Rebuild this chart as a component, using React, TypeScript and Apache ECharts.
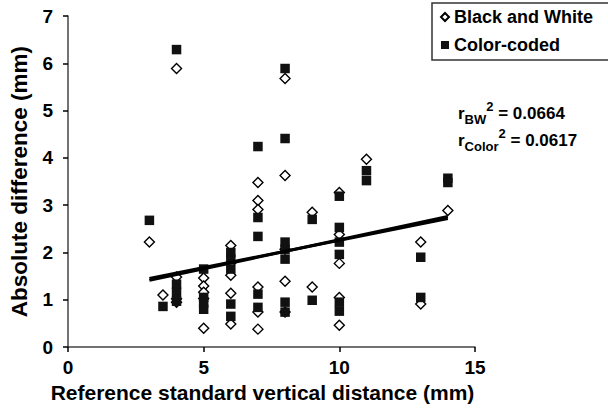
import React, { useEffect, useRef } from "react";
import * as echarts from "echarts";

// Black and White (diamonds): reference distance (mm) and absolute difference (mm)
const bwDistance = [3, 3.5, 4, 4, 4, 4, 5, 5, 5, 5, 5, 6, 6, 6, 6, 6, 7, 7, 7, 7, 7, 7, 8, 8, 8, 8, 8, 9, 9, 10, 10, 10, 10, 10, 11, 13, 13, 14];
const bwDifference = [2.22, 1.1, 5.89, 1.48, 1.02, 0.95, 1.46, 1.29, 1.16, 1.03, 0.4, 2.15, 1.78, 1.52, 1.14, 0.49, 3.48, 3.1, 2.91, 1.27, 0.74, 0.38, 5.68, 3.63, 2.07, 1.39, 0.74, 2.85, 1.27, 3.27, 2.38, 1.77, 1.05, 0.46, 3.97, 2.22, 0.91, 2.89];

// Color-coded (squares)
const colorDistance = [3, 3.5, 4, 4, 4, 4, 5, 5, 5, 5, 6, 6, 6, 6, 6, 7, 7, 7, 7, 7, 8, 8, 8, 8, 8, 8, 8, 9, 9, 10, 10, 10, 10, 10, 10, 11, 11, 13, 13, 14, 14];
const colorDifference = [2.68, 0.86, 6.29, 1.33, 1.16, 0.97, 1.65, 1.05, 0.93, 0.8, 2.0, 1.86, 1.65, 0.91, 0.65, 4.24, 2.74, 2.34, 1.12, 0.84, 5.89, 4.41, 2.22, 2.07, 1.86, 0.95, 0.74, 2.7, 0.99, 3.19, 2.53, 2.22, 1.96, 0.95, 0.76, 3.73, 3.52, 1.9, 1.05, 3.57, 3.48];

// Linear fits (start and end points)
const bwFitX = [3, 14];
const bwFitY = [1.41, 2.76];
const colorFitX = [3, 14];
const colorFitY = [1.45, 2.72];

const xTicks = { min: 0, max: 15, interval: 5 };
const yTicks = { min: 0, max: 7, interval: 1 };

const rBW = "0.0664";
const rColor = "0.0617";

const FONT = "Liberation Sans, Arial, Helvetica, sans-serif";

const zip = (xs: number[], ys: number[]) => xs.map((x, i) => [x, ys[i]]);

export default function App() {
  const ref = useRef<HTMLDivElement>(null);
  useEffect(() => {
    if (!ref.current) return;
    const chart = echarts.init(ref.current, undefined, { renderer: "svg" });
    const richR = {
      r: { fontSize: 17, fontWeight: "bold", fontFamily: FONT, color: "#000", lineHeight: 26, verticalAlign: "middle" },
      sub: { fontSize: 13, fontWeight: "bold", fontFamily: FONT, color: "#000", lineHeight: 13, verticalAlign: "bottom" },
      sup: { fontSize: 13, fontWeight: "bold", fontFamily: FONT, color: "#000", lineHeight: 16, verticalAlign: "top" },
    };
    chart.setOption({
      animation: false,
      backgroundColor: "#fff",
      grid: { left: 67, right: 133, top: 16, bottom: 60, containLabel: false },
      legend: {
        orient: "vertical",
        left: 432,
        top: 3,
        padding: [5, 30, 6, 8],
        itemWidth: 8,
        itemHeight: 8,
        itemGap: 10,
        itemTextGap: 12,
        borderColor: "#333",
        borderWidth: 1.5,
        textStyle: { fontSize: 18, fontWeight: "bold", fontFamily: FONT, color: "#000", lineHeight: 18 },
        data: ["Black and White", "Color-coded"],
      },
      xAxis: {
        type: "value",
        min: xTicks.min,
        max: xTicks.max,
        interval: xTicks.interval,
        name: "Reference standard vertical distance (mm)",
        nameLocation: "middle",
        nameGap: 28,
        nameTextStyle: { fontSize: 21, fontWeight: "bold", fontFamily: FONT, color: "#000", padding: [0, 18, 0, 0] },
        axisLine: { lineStyle: { color: "#444", width: 1.5 } },
        axisTick: { length: 5, lineStyle: { color: "#000", width: 1.5 } },
        axisLabel: { fontSize: 19, fontWeight: "bold", fontFamily: FONT, color: "#000", margin: 11 },
        splitLine: { show: false },
      },
      yAxis: {
        type: "value",
        min: yTicks.min,
        max: yTicks.max,
        interval: yTicks.interval,
        name: "Absolute difference (mm)",
        nameLocation: "middle",
        nameRotate: 90,
        nameGap: 37,
        nameTextStyle: { fontSize: 22.5, fontWeight: "bold", fontFamily: FONT, color: "#000" },
        axisLine: { show: true, lineStyle: { color: "#444", width: 1.5 } },
        axisTick: { show: true, length: 5, lineStyle: { color: "#000", width: 1.5 } },
        axisLabel: { fontSize: 19, fontWeight: "bold", fontFamily: FONT, color: "#000", margin: 15 },
        splitLine: { show: false },
      },
      series: [
        {
          name: "Black and White",
          type: "scatter",
          symbol: "diamond",
          symbolSize: 10,
          itemStyle: { color: "#fff", borderColor: "#000", borderWidth: 1.4, opacity: 1 },
          data: zip(bwDistance, bwDifference),
          z: 2,
        },
        {
          name: "Color-coded",
          type: "scatter",
          symbol: "rect",
          symbolSize: 9.5,
          itemStyle: { color: "#111", opacity: 1 },
          data: zip(colorDistance, colorDifference),
          z: 3,
        },
        {
          name: "BW fit",
          type: "line",
          symbol: "none",
          lineStyle: { color: "#000", width: 3 },
          data: zip(bwFitX, bwFitY),
          z: 4,
          silent: true,
        },
        {
          name: "Color fit",
          type: "line",
          symbol: "none",
          lineStyle: { color: "#000", width: 3 },
          data: zip(colorFitX, colorFitY),
          z: 4,
          silent: true,
        },
      ],
      graphic: [
        {
          type: "text",
          left: 458,
          top: 100,
          style: { text: `{r|r}{sub|BW}{sup|2}{r| = ${rBW}}`, rich: richR },
        },
        {
          type: "text",
          left: 458,
          top: 127,
          style: { text: `{r|r}{sub|Color}{sup|2}{r| = ${rColor}}`, rich: richR },
        },
      ],
    });
    return () => chart.dispose();
  }, []);
  return <div ref={ref} style={{ position: "absolute", left: 0, top: 0, width: 608, height: 408 }} />;
}
